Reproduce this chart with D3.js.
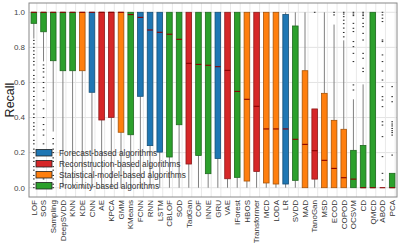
<!DOCTYPE html>
<html>
<head>
<meta charset="utf-8">
<script src="https://cdn.jsdelivr.net/npm/d3@7"></script>
<style>
  body { margin: 0; background: #fff; }
  text { font-family: "Liberation Sans", Arial, sans-serif; }
</style>
</head>
<body>
<div id="chart"></div>
<script>
// algorithm names, in plot order
var algorithms = ["LOF", "SOS", "Sampling", "DeepSVDD", "KNN", "KDE", "CNN", "AE", "KPCA", "GMM",
  "KMeans", "FCNN", "RNN", "LSTM", "CBLOF", "SOD", "TadGan", "COF", "INNE", "GRU", "VAE",
  "IForest", "HBOS", "Transformer", "MCD", "LODA", "LR", "SVDD", "MAD", "TanoGan", "MSD",
  "ECOD", "COPOD", "OCSVM", "CD", "QMCD", "ABOD", "PCA"];
// F = forecast, R = reconstruction, S = statistical model, P = proximity
var groups = ["P", "P", "P", "P", "P", "S", "F", "R", "R", "S",
  "P", "F", "F", "F", "P", "P", "R", "P", "P", "F", "R",
  "P", "S", "R", "S", "S", "F", "P", "S", "R", "S",
  "S", "S", "P", "P", "P", "P", "P"];
var q1s = [0.937, 0.889, 0.724, 0.667, 0.667, 0.667, 0.544, 0.386, 0.401, 0.316,
  0.302, 0.521, 0.240, 0.203, 0.175, 0.359, 0.135, 0.184, 0.080, 0.167, 0.051,
  0.059, 0.038, 0.093, 0.027, 0.021, 0.021, 0.042, 0, 0.049, 0,
  0, 0, 0, 0, 0, 0, 0];
var medians = [1, 1, 1, 1, 1, 1, 1, 1, 1, 1,
  0.987, 0.971, 0.899, 0.886, 0.875, 0.846, 0.709, 0.703, 0.698, 0.690, 0.669,
  0.549, 0.504, 0.464, 0.335, 0.335, 0.335, 0.276, 0.247, 0.211, 0.156,
  0.110, 0.057, 0.049, 0, 0, 0, 0];
var q3s = [1, 1, 1, 1, 1, 1, 1, 1, 1, 1,
  1, 1, 1, 1, 1, 1, 1, 1, 1, 1, 1,
  1, 1, 1, 1, 1, 0.987, 0.922, 0.667, 0.449, 0.538,
  0.384, 0.333, 0.213, 0.241, 1, 0, 0.082];
var lowWhiskers = [0.85, 0.72, 0.32, 0, 0, 0, 0, 0, 0, 0,
  0, 0, 0, 0, 0, 0, 0, 0, 0, 0, 0,
  0, 0, 0, 0, 0, 0, 0, 0, 0, 0,
  0, 0, 0, 0, 0, 0, 0];
var highWhiskers = [1, 1, 1, 1, 1, 1, 1, 1, 1, 1,
  1, 1, 1, 1, 1, 1, 1, 1, 1, 1, 1,
  1, 1, 1, 1, 1, 1, 1, 1, 0.449, 1,
  0.93, 0.84, 0.504, 0.589, 1, 0, 0.082];
var outliers = [
  [0.84, 0.82, 0.80, 0.78, 0.76, 0.74, 0.72, 0.70, 0.67, 0.64, 0.62, 0.60, 0.57, 0.55, 0.52, 0.50,
   0.47, 0.45, 0.42, 0.40, 0.37, 0.35, 0.33, 0.30, 0.27, 0.25, 0.22, 0.20, 0.17, 0.15, 0.12, 0.10,
   0.07, 0.05, 0.02, 0.0],
  [0.70, 0.68, 0.66, 0.63, 0.60, 0.57, 0.55, 0.50, 0.45, 0.40, 0.36, 0.33, 0.30, 0.25, 0.20, 0.15,
   0.12, 0.08, 0.05, 0.0],
  [0.28, 0.25, 0.22, 0.20, 0.17, 0.15, 0.12, 0.10, 0.07, 0.05, 0.02, 0.0],
  [], [], [], [], [], [], [],
  [], [], [], [], [], [], [], [], [], [], [],
  [], [], [], [], [], [], [], [], [1.0], [],
  [1.0, 0.985],
  [1.0, 0.99, 0.975, 0.955, 0.935, 0.91, 0.885, 0.86],
  [1.0, 0.99, 0.981, 0.937, 0.909, 0.89, 0.833, 0.804, 0.766, 0.719, 0.586, 0.557],
  [1.0, 0.99, 0.981, 0.966, 0.937, 0.918, 0.88, 0.842, 0.766, 0.738, 0.681, 0.662],
  [],
  [1.0, 0.985, 0.966, 0.947, 0.842, 0.833, 0.757, 0.719, 0.665, 0.614, 0.576, 0.519, 0.5, 0.462,
   0.376, 0.357, 0.291, 0.177, 0.082, 0.044],
  [0.576, 0.519, 0.49, 0.376, 0.363, 0.352, 0.338, 0.325, 0.314, 0.30, 0.186]
];
var groupKeys = ["F", "R", "S", "P"];
var groupNames = ["Forecast-based algorithms", "Reconstruction-based algorithms",
  "Statistical-model-based algorithms", "Proximity-based algorithms"];
var yTicks = [0, 0.2, 0.4, 0.6, 0.8, 1.0];

var width = 399, height = 247;
var margin = { top: 3, right: 2, bottom: 50, left: 29 };

var color = d3.scaleOrdinal()
  .domain(groupKeys)
  .range(["#1f77b4", "#d62728", "#ff7f0e", "#2ca02c"]);

var svg = d3.select("#chart").append("svg")
  .attr("width", width)
  .attr("height", height);

var x = d3.scaleBand()
  .domain(algorithms)
  .range([margin.left, width - margin.right]);

var y = d3.scaleLinear()
  .domain([-0.053, 1.053])
  .range([height - margin.bottom, margin.top]);

var boxW = 5.6;

// grid
svg.append("g")
  .selectAll("line")
  .data(yTicks)
  .enter()
  .append("line")
  .attr("x1", margin.left)
  .attr("x2", width - margin.right)
  .attr("y1", function (d) { return y(d); })
  .attr("y2", function (d) { return y(d); })
  .attr("stroke", "#dcdcdc")
  .attr("stroke-width", 0.8);

svg.append("g")
  .selectAll("line")
  .data(algorithms)
  .enter()
  .append("line")
  .attr("x1", function (d) { return x(d) + x.bandwidth() / 2 + 3; })
  .attr("x2", function (d) { return x(d) + x.bandwidth() / 2 + 3; })
  .attr("y1", margin.top)
  .attr("y2", height - margin.bottom)
  .attr("stroke", "#e6e6e6")
  .attr("stroke-width", 0.9);

var rows = algorithms.map(function (a, i) {
  return {
    name: a, group: groups[i], q1: q1s[i], med: medians[i], q3: q3s[i],
    lo: lowWhiskers[i], hi: highWhiskers[i], out: outliers[i]
  };
});

var boxes = svg.append("g")
  .selectAll("g")
  .data(rows)
  .enter()
  .append("g")
  .attr("transform", function (d) { return "translate(" + (x(d.name) + x.bandwidth() / 2) + ",0)"; });

// whiskers
boxes.append("line")
  .attr("y1", function (d) { return y(d.lo); })
  .attr("y2", function (d) { return y(d.q1); })
  .attr("stroke", "#808080")
  .attr("stroke-width", 1);
boxes.append("line")
  .attr("y1", function (d) { return y(d.q3); })
  .attr("y2", function (d) { return y(d.hi); })
  .attr("stroke", "#808080")
  .attr("stroke-width", 1);

// fliers
boxes.selectAll("rect.flier")
  .data(function (d) { return d.out; })
  .enter()
  .append("rect")
  .attr("class", "flier")
  .attr("x", -0.8)
  .attr("y", function (v) { return y(v) - 0.5; })
  .attr("width", 1.6)
  .attr("height", 1)
  .attr("fill", "#222");

boxes.append("rect")
  .attr("x", -boxW / 2)
  .attr("width", boxW)
  .attr("y", function (d) { return y(d.q3); })
  .attr("height", function (d) { return Math.max(0, y(d.q1) - y(d.q3)); })
  .attr("fill", function (d) { return color(d.group); })
  .attr("stroke", function (d) { return d3.color(color(d.group)).darker(1.2); })
  .attr("stroke-width", 0.8);

boxes.append("line")
  .attr("x1", -boxW / 2)
  .attr("x2", boxW / 2)
  .attr("y1", function (d) { return y(d.med); })
  .attr("y2", function (d) { return y(d.med); })
  .attr("stroke", "#8b0000")
  .attr("stroke-width", 1.1);

// frame
svg.append("rect")
  .attr("x", margin.left)
  .attr("y", margin.top)
  .attr("width", width - margin.left - margin.right)
  .attr("height", height - margin.top - margin.bottom)
  .attr("fill", "none")
  .attr("stroke", "#888")
  .attr("stroke-width", 1);

// y axis
svg.append("g")
  .selectAll("text")
  .data(yTicks)
  .enter()
  .append("text")
  .attr("x", margin.left - 4)
  .attr("y", function (d) { return y(d); })
  .attr("dy", "0.35em")
  .attr("text-anchor", "end")
  .attr("font-size", 8)
  .attr("fill", "#444")
  .text(function (d) { return d3.format(".1f")(d); });

svg.append("text")
  .attr("transform", "translate(14," + ((margin.top + height - margin.bottom) / 2) + ") rotate(-90)")
  .attr("text-anchor", "middle")
  .attr("font-size", 12.5)
  .attr("fill", "#222")
  .text("Recall");

// x labels
svg.append("g")
  .selectAll("text")
  .data(algorithms)
  .enter()
  .append("text")
  .attr("transform", function (d) {
    return "translate(" + (x(d) + x.bandwidth() / 2 + 2.8) + "," + (height - margin.bottom + 3) + ") rotate(-90)";
  })
  .attr("text-anchor", "end")
  .attr("font-size", 8)
  .attr("fill", "#333")
  .text(function (d) { return d; });

// legend
var legend = svg.append("g")
  .selectAll("g")
  .data(groupKeys)
  .enter()
  .append("g")
  .attr("transform", function (d, i) { return "translate(36," + (152.7 + i * 11) + ")"; });

legend.append("rect")
  .attr("x", 0)
  .attr("y", -3.3)
  .attr("width", 16)
  .attr("height", 6.6)
  .attr("fill", function (d) { return color(d); })
  .attr("stroke", "#222")
  .attr("stroke-width", 0.8);

legend.append("text")
  .attr("x", 23)
  .attr("y", 0)
  .attr("dy", "0.35em")
  .attr("font-size", 8.3)
  .attr("fill", "#333")
  .text(function (d, i) { return groupNames[i]; });
</script>
</body>
</html>
